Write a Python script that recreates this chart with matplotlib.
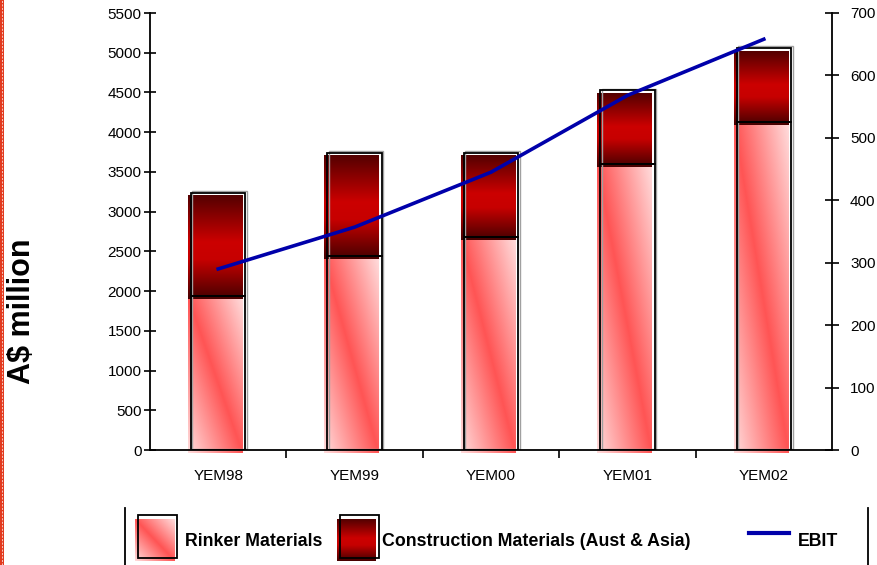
import numpy as np
import matplotlib
matplotlib.use("Agg")
import matplotlib.pyplot as plt
from matplotlib.patches import Rectangle
from matplotlib.lines import Line2D
from matplotlib.transforms import ScaledTranslation

# ---- data ---------------------------------------------------------------
years = ["YEM98", "YEM99", "YEM00", "YEM01", "YEM02"]
rinker = [1940, 2440, 2680, 3600, 4130]
construction = [1300, 1300, 1060, 930, 930]
ebit = [290, 357, 445, 568, 658]

left_ticks = list(range(0, 5501, 500))
right_ticks = list(range(0, 701, 100))

# ---- styling ------------------------------------------------------------
plt.rcParams["font.family"] = ["Liberation Sans", "DejaVu Sans"]
W, H = 878, 565
fig = plt.figure(figsize=(W / 100, H / 100), dpi=100, facecolor="white")


def fx(px):
    return px / W


def fy(py):
    return 1 - py / H


def rinker_grad(ny=160, nx=60):
    u = np.linspace(0, 1, nx)[None, :]
    v = np.linspace(0, 1, ny)[:, None]
    t = np.abs(u - v)[..., None]
    red = np.array([1.0, 0.33, 0.33])
    pale = np.array([1.0, 0.86, 0.86])
    return red * (1 - t) + pale * t


def constr_grad(ny=160, nx=60):
    v = np.linspace(0, 1, ny)
    r = np.interp(v, [0, 0.45, 0.62, 1], [0.33, 0.80, 0.78, 0.28])
    arr = np.zeros((ny, nx, 3))
    arr[..., 0] = r[:, None]
    return arr


ax = fig.add_axes([fx(150), fy(450), fx(832) - fx(150), fy(13) - fy(450)])
ax2 = ax.twinx()

x = np.arange(len(years))
bw = 0.4
shift = ScaledTranslation(-3 / 100, -3 / 100, fig.dpi_scale_trans)
halo = ScaledTranslation(1.5 / 100, 1.5 / 100, fig.dpi_scale_trans)
tops = [r + c for r, c in zip(rinker, construction)]

for i in range(len(years)):
    im = ax.imshow(rinker_grad(), extent=[x[i] - bw / 2, x[i] + bw / 2, 0, rinker[i]],
                   aspect="auto", interpolation="bilinear", zorder=2)
    im.set_transform(ax.transData + shift)
    im.set_clip_on(False)
    im = ax.imshow(constr_grad(), extent=[x[i] - bw / 2, x[i] + bw / 2, rinker[i], tops[i]],
                   aspect="auto", interpolation="bilinear", zorder=2)
    im.set_transform(ax.transData + shift)
    im.set_clip_on(False)

# grey halo just outside the black outline, then the outline itself
for b in ax.bar(x, tops, width=bw, fill=False, edgecolor="#a0a0a0", lw=1.0, zorder=2.5):
    b.set_transform(ax.transData + halo)
ax.bar(x, rinker, width=bw, fill=False, edgecolor="black", lw=1.3, zorder=3)
ax.bar(x, construction, bottom=rinker, width=bw, fill=False, edgecolor="black", lw=1.3, zorder=3)

ax.set_xlim(-0.5, 4.5)
ax.set_ylim(0, 5500)
ax.set_yticks(left_ticks)
ax.tick_params(axis="y", direction="inout", length=8, width=1.2, labelsize=11, pad=2)
ax.set_xticks([0.5, 1.5, 2.5, 3.5])
ax.set_xticklabels([])
ax.set_xticks(x, minor=True)
ax.set_xticklabels(years, minor=True)
ax.tick_params(axis="x", which="major", direction="out", length=6, width=1.2)
ax.tick_params(axis="x", which="minor", length=0, pad=14, labelsize=11)
for s in ["top", "right"]:
    ax.spines[s].set_visible(False)
for s in ["left", "bottom"]:
    ax.spines[s].set_linewidth(1.3)

ax2.plot(x, ebit, color="#0000aa", lw=2.6, zorder=5)
ax2.set_ylim(0, 700)
ax2.set_yticks(right_ticks)
ax2.tick_params(axis="y", direction="inout", length=10, width=1.2, labelsize=11, pad=8)
for s in ["top", "left", "bottom"]:
    ax2.spines[s].set_visible(False)
ax2.spines["right"].set_linewidth(1.3)

fig.text(fx(22), fy(311), "A$ million", rotation=90, ha="center", va="center",
         fontsize=22, fontweight="bold")

# ---- legend (drawn by hand) -------------------------------------------
for lx in (125, 868):
    fig.add_artist(Line2D([fx(lx), fx(lx)], [fy(508), fy(565)], transform=fig.transFigure,
                          color="black", lw=1.3))

for grad, (x0, x1), label, tx in [(rinker_grad, (135, 175), "Rinker Materials", 185),
                                  (constr_grad, (337, 376), "Construction Materials (Aust & Asia)", 382)]:
    sw = fig.add_axes([fx(x0), fy(561), fx(x1) - fx(x0), fy(519) - fy(561)])
    sw.imshow(grad(60, 60), aspect="auto", interpolation="bilinear")
    sw.axis("off")
    fig.add_artist(Rectangle((fx(x0 + 3), fy(558)), fx(39), fy(515) - fy(558),
                             transform=fig.transFigure, fill=False, edgecolor="black", lw=1.3))
    fig.text(fx(tx), fy(541), label, ha="left", va="center", fontsize=12.8, fontweight="bold")

fig.add_artist(Line2D([fx(749), fx(789)], [fy(533), fy(533)], transform=fig.transFigure,
                      color="#0000aa", lw=3))
fig.text(fx(798), fy(541), "EBIT", ha="left", va="center", fontsize=12.8, fontweight="bold")

# red dashed strip at the left edge
fig.add_artist(Rectangle((0, 0), fx(4), 1, transform=fig.transFigure, color="#e33a1f", lw=0))
fig.add_artist(Line2D([fx(2), fx(2)], [0, 1], transform=fig.transFigure, color="white",
                      lw=0.5, ls=(0, (3, 2))))

fig.savefig("out.png", dpi=100)
